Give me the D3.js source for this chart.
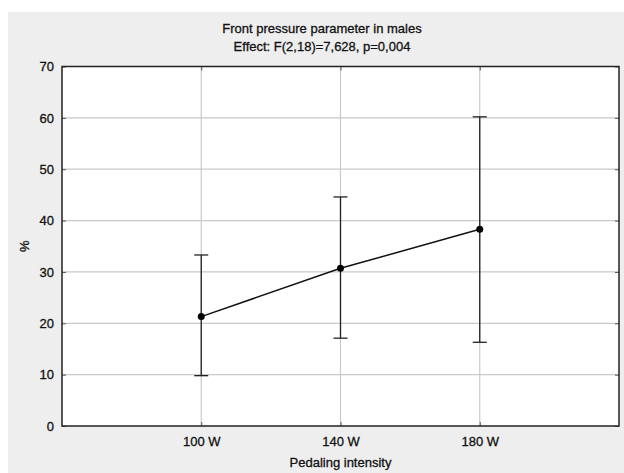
<!DOCTYPE html>
<html>
<head>
<meta charset="utf-8">
<script src="https://cdn.jsdelivr.net/npm/d3@7"></script>
<style>
  body { margin: 0; background: #fff; }
  text { font-family: "Liberation Sans", Arial, sans-serif; fill: #111; stroke: #111; stroke-width: 0.3px; }
</style>
</head>
<body>
<svg id="chart" width="624" height="473"></svg>
<script>
// data
const categories = ["100 W", "140 W", "180 W"]
const means = [21.3, 30.7, 38.3]
const upper = [33.3, 44.6, 60.2]
const lower = [9.8, 17.1, 16.3]
const yTicks = [0, 10, 20, 30, 40, 50, 60, 70]
const titleLines = ["Front pressure parameter in males", "Effect: F(2,18)=7,628, p=0,004"]

const svg = d3.select("#chart")
const W = 624, H = 473
const margin = {left: 62, right: 5, top: 66.5, bottom: 47}
const plotW = W - margin.left - margin.right
const plotH = H - margin.top - margin.bottom

// grey panel
svg.append("rect").attr("x", 8).attr("y", 12).attr("width", W - 8).attr("height", H - 12).attr("fill", "#eeeeee")

const g = svg.append("g").attr("transform", `translate(${margin.left},${margin.top})`)

// x is a point scale with half a step of padding each side (4 intervals)
const x = d3.scalePoint().domain(categories).range([0, plotW]).padding(1)
const y = d3.scaleLinear().domain([0, 70]).range([plotH, 0])

g.append("rect").attr("width", plotW).attr("height", plotH).attr("fill", "#fff")

// grid lines
g.append("g").selectAll("line").data(yTicks.slice(1, -1)).join("line")
  .attr("x1", 0).attr("x2", plotW)
  .attr("y1", d => y(d)).attr("y2", d => y(d))
  .attr("stroke", "#c9c9c9").attr("stroke-width", 1.2)
g.append("g").selectAll("line").data(categories).join("line")
  .attr("x1", d => x(d)).attr("x2", d => x(d))
  .attr("y1", 0).attr("y2", plotH)
  .attr("stroke", "#c9c9c9").attr("stroke-width", 1.2)

// axes
g.append("g").call(d3.axisLeft(y).tickValues(yTicks).tickSize(-4).tickPadding(8))
g.append("g").attr("transform", `translate(0,${plotH})`)
  .call(d3.axisBottom(x).tickSize(-4).tickPadding(11))
g.append("g").attr("transform", `translate(${plotW},0)`)
  .call(d3.axisRight(y).tickValues(yTicks).tickSize(-4).tickFormat(""))
g.append("g").call(d3.axisTop(x).tickSize(-4).tickFormat(""))
g.selectAll(".domain").remove()
g.selectAll(".tick line").attr("stroke", "#555")
g.selectAll(".tick text").style("font-size", "13px").attr("fill", "#111")

// frame
g.append("rect").attr("width", plotW).attr("height", plotH)
  .attr("fill", "none").attr("stroke", "#222").attr("stroke-width", 1.5)

// error bars
const capW = 7
const bars = g.append("g").selectAll("g").data(categories).join("g")
bars.append("line")
  .attr("x1", d => x(d)).attr("x2", d => x(d))
  .attr("y1", (d, i) => y(upper[i])).attr("y2", (d, i) => y(lower[i]))
  .attr("stroke", "#222").attr("stroke-width", 1.3)
bars.append("line")
  .attr("x1", d => x(d) - capW).attr("x2", d => x(d) + capW)
  .attr("y1", (d, i) => y(upper[i])).attr("y2", (d, i) => y(upper[i]))
  .attr("stroke", "#222").attr("stroke-width", 1.3)
bars.append("line")
  .attr("x1", d => x(d) - capW).attr("x2", d => x(d) + capW)
  .attr("y1", (d, i) => y(lower[i])).attr("y2", (d, i) => y(lower[i]))
  .attr("stroke", "#222").attr("stroke-width", 1.3)

// mean line and points
const line = d3.line().x((d, i) => x(categories[i])).y(d => y(d))
g.append("path").datum(means).attr("d", line)
  .attr("fill", "none").attr("stroke", "#111").attr("stroke-width", 1.5)
g.append("g").selectAll("circle").data(means).join("circle")
  .attr("cx", (d, i) => x(categories[i])).attr("cy", d => y(d)).attr("r", 3.5)
  .attr("fill", "#000")

// titles
svg.append("g").selectAll("text").data(titleLines).join("text")
  .attr("x", 322).attr("y", (d, i) => 33 + i * 18)
  .attr("text-anchor", "middle").style("font-size", "13px")
  .text(d => d)

svg.append("text").attr("x", margin.left + plotW / 2).attr("y", 467)
  .attr("text-anchor", "middle").style("font-size", "13px").text("Pedaling intensity")

svg.append("text").attr("transform", `translate(29,${margin.top + plotH / 2}) rotate(-90)`)
  .attr("text-anchor", "middle").style("font-size", "13px").text("%")
</script>
</body>
</html>
